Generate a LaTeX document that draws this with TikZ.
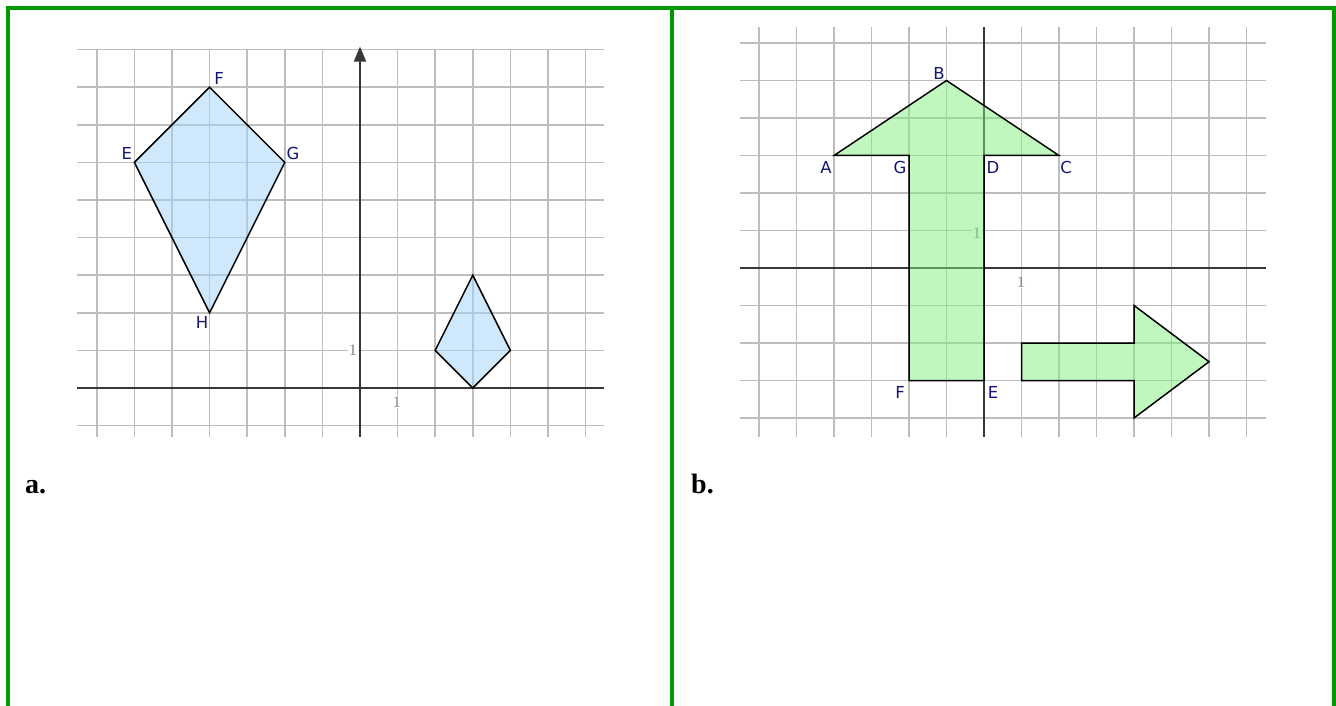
\documentclass[tikz,border=0pt]{standalone}
\usepackage{fontspec}
\setmainfont{Liberation Serif}
\newfontfamily\lblfont{DejaVu Sans}
\usetikzlibrary{arrows.meta}
\definecolor{bordergreen}{RGB}{0,153,0}
\definecolor{gridgray}{RGB}{190,190,190}
\definecolor{axisgray}{RGB}{55,55,55}
\definecolor{lblblue}{RGB}{20,20,115}
\definecolor{kitefill}{RGB}{160,210,250}
\definecolor{arrowfill}{RGB}{127,240,127}
\begin{document}
\begin{tikzpicture}[x=1pt,y=-1pt,
  frame/.style={draw=bordergreen, line width=4pt},
  gridline/.style={draw=gridgray, line width=1.7pt},
  axisline/.style={draw=axisgray, line width=1.9pt},
  kiteshape/.style={draw=black, line width=1.5pt, fill=kitefill, fill opacity=0.5},
  arrowshape/.style={draw=black, line width=1.5pt, fill=arrowfill, fill opacity=0.5},
  ptlabel/.style={text=lblblue, font=\lblfont\fontsize{16.5}{16.5}\selectfont, inner sep=0pt},
  ticklabel/.style={text=gray, font=\fontsize{16}{16}\selectfont, inner sep=1pt},
  partlabel/.style={font=\bfseries\fontsize{28}{28}\selectfont, inner sep=0pt, anchor=base west}]
\useasboundingbox (0,0) rectangle (1336,706);
% frame
\draw[frame] (6,8.5) -- (1336,8.5);
\draw[frame] (8,6.5) -- (8,706);
\draw[frame] (672,6.5) -- (672,706);
\draw[frame] (1334,6.5) -- (1334,706);
% part labels
\node[partlabel] (la) at (25,493) {a.};
\node[partlabel] (lb) at (691,493) {b.};
% ---------- left graph ----------
\begin{scope}[shift={(360,388)}, x=37.6pt, y=37.6pt]
  \foreach \i in {-7,...,6} \draw[gridline] (\i,-1.3) -- (\i,9);
  \foreach \j in {-1,...,9} \draw[gridline] (-7.53,\j) -- (6.49,\j);
  \coordinate (xl) at (-7.53,0); \coordinate (xr) at (6.49,0);
  \coordinate (yb) at (0,-1.3); \coordinate (yt) at (0,9.08);
  \draw[axisline] (xl) -- (xr);
  \draw[axisline, -{Triangle[length=15pt,width=12pt]}] (yb) -- (yt);
  \node[ticklabel, fill=white] (ly1) at (-0.19,1.01) {1};
  \node[ticklabel, fill=white] (lx1) at (0.98,-0.37) {1};
  \coordinate (E) at (-6,6); \coordinate (F) at (-4,8);
  \coordinate (G) at (-2,6); \coordinate (H) at (-4,2);
  \draw[kiteshape] (E) -- (F) -- (G) -- (H) -- cycle;
  \coordinate (P1) at (2,1); \coordinate (P2) at (3,3);
  \coordinate (P3) at (4,1); \coordinate (P4) at (3,0);
  \draw[kiteshape] (P1) -- (P2) -- (P3) -- (P4) -- cycle;
  \node[ptlabel] (lE) at (-6.20,6.25) {E};
  \node[ptlabel] (lF) at (-3.75,8.24) {F};
  \node[ptlabel] (lG) at (-1.78,6.25) {G};
  \node[ptlabel] (lH) at (-4.20,1.73) {H};
\end{scope}
% ---------- right graph ----------
\begin{scope}[shift={(984,268)}, x=37.5pt, y=37.5pt]
  \foreach \i in {-6,...,7} \draw[gridline] (\i,-4.5) -- (\i,6.43);
  \foreach \j in {-4,...,6} \draw[gridline] (-6.5,\j) -- (7.52,\j);
  \coordinate (rxl) at (-6.5,0); \coordinate (rxr) at (7.52,0);
  \coordinate (ryb) at (0,-4.5); \coordinate (ryt) at (0,6.43);
  \draw[axisline] (rxl) -- (rxr);
  \draw[axisline] (ryb) -- (ryt);
  \node[ticklabel, fill=white] (ry1) at (-0.19,0.93) {1};
  \node[ticklabel, fill=white] (rx1) at (0.99,-0.37) {1};
  \coordinate (A) at (-4,3); \coordinate (B) at (-1,5);
  \coordinate (C) at (2,3);  \coordinate (D) at (0,3);
  \coordinate (EE) at (0,-3); \coordinate (FF) at (-2,-3);
  \coordinate (GG) at (-2,3);
  \draw[arrowshape] (A) -- (B) -- (C) -- (D) -- (EE) -- (FF) -- (GG) -- cycle;
  \coordinate (Q1) at (1,-2); \coordinate (Q2) at (4,-2);
  \coordinate (Q3) at (4,-1); \coordinate (Q4) at (6,-2.5);
  \coordinate (Q5) at (4,-4); \coordinate (Q6) at (4,-3);
  \coordinate (Q7) at (1,-3);
  \draw[arrowshape] (Q1) -- (Q2) -- (Q3) -- (Q4) -- (Q5) -- (Q6) -- (Q7) -- cycle;
  \node[ptlabel] (lA) at (-4.21,2.67) {A};
  \node[ptlabel] (lB) at (-1.20,5.20) {B};
  \node[ptlabel] (lC) at (2.19,2.67) {C};
  \node[ptlabel] (lD) at (0.24,2.67) {D};
  \node[ptlabel] (lGG) at (-2.24,2.67) {G};
  \node[ptlabel] (lEE) at (0.24,-3.33) {E};
  \node[ptlabel] (lFF) at (-2.24,-3.33) {F};
\end{scope}
\end{tikzpicture}
\end{document}
